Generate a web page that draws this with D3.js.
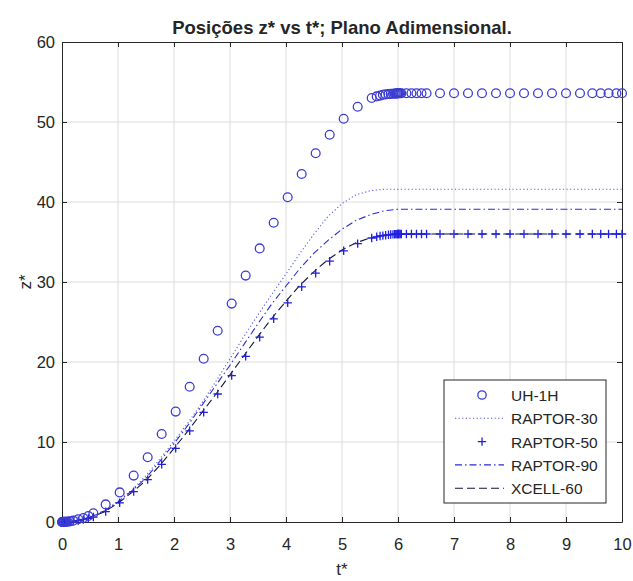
<!DOCTYPE html>
<html>
<head>
<meta charset="utf-8">
<script src="https://cdn.jsdelivr.net/npm/d3@7"></script>
<style>
  body { margin: 0; background: #fff; }
  svg text { font-family: "Liberation Sans", Arial, Helvetica, sans-serif; fill: #262626; }
</style>
</head>
<body>
<div id="chart"></div>
<script>
// sample times shared by the two marker series (UH-1H, RAPTOR-50)
const tMarks = [0, 0.005, 0.01, 0.02, 0.03, 0.04, 0.06, 0.08, 0.1, 0.14, 0.2, 0.29, 0.38, 0.47, 0.56,
  0.78, 1.03, 1.28, 1.53, 1.78, 2.03, 2.28, 2.53, 2.78, 3.03, 3.28, 3.53, 3.78, 4.03, 4.28, 4.53,
  4.78, 5.03, 5.28, 5.53, 5.62, 5.68, 5.73, 5.78, 5.83, 5.87, 5.91, 5.94, 5.96, 5.98, 5.99, 6.0,
  6.01, 6.02, 6.04, 6.06, 6.15, 6.24, 6.33, 6.42, 6.51, 6.75, 7.0, 7.25, 7.5, 7.75, 8.0, 8.25,
  8.5, 8.75, 9.0, 9.25, 9.47, 9.62, 9.76, 9.9, 10];

const uh1h = [0, 0, 0, 0, 0.01, 0.01, 0.02, 0.03, 0.05, 0.08, 0.17, 0.34, 0.5, 0.75, 1.1,
  2.2, 3.7, 5.8, 8.1, 11.0, 13.8, 16.9, 20.4, 23.9, 27.3, 30.8, 34.2, 37.4, 40.6, 43.5, 46.1,
  48.4, 50.4, 51.9, 53.0, 53.2, 53.3, 53.4, 53.45, 53.5, 53.52, 53.54, 53.55, 53.56, 53.57, 53.58, 53.6,
  53.6, 53.6, 53.6, 53.6, 53.6, 53.6, 53.6, 53.6, 53.6, 53.6, 53.6, 53.6, 53.6, 53.6, 53.6, 53.6,
  53.6, 53.6, 53.6, 53.6, 53.6, 53.6, 53.6, 53.6, 53.6];

const raptor50 = [0, 0, 0, 0, 0, 0, 0, 0.01, 0.02, 0.04, 0.08, 0.17, 0.3, 0.45, 0.62,
  1.3, 2.4, 3.8, 5.3, 7.2, 9.2, 11.4, 13.7, 16.0, 18.3, 20.7, 23.1, 25.4, 27.4, 29.4, 31.1,
  32.6, 33.9, 34.8, 35.5, 35.65, 35.75, 35.8, 35.85, 35.9, 35.93, 35.95, 35.97, 35.98, 35.99, 36, 36,
  36, 36, 36, 36, 36, 36, 36, 36, 36, 36, 36, 36, 36, 36, 36, 36,
  36, 36, 36, 36, 36, 36, 36, 36, 36];

// line series
const tLine = [0, 0.25, 0.5, 0.75, 1, 1.25, 1.5, 1.75, 2, 2.25, 2.5, 2.75, 3, 3.25, 3.5, 3.75,
  4, 4.25, 4.5, 4.75, 5, 5.25, 5.5, 5.75, 6, 10];
const raptor30 = [0, 0.2, 0.65, 1.4, 2.6, 4.0, 5.8, 7.9, 10.1, 12.4, 14.9, 17.6, 20.4, 23.2, 25.9, 28.5,
  31.0, 33.6, 36.0, 38.2, 39.8, 40.9, 41.4, 41.6, 41.6, 41.6];
const raptor90 = [0, 0.15, 0.6, 1.3, 2.5, 3.9, 5.5, 7.6, 9.8, 12.1, 14.6, 17.1, 19.6, 22.2, 24.8, 27.3,
  29.5, 31.7, 33.6, 35.2, 36.6, 37.7, 38.4, 38.9, 39.1, 39.1];
const xcell60 = [0, 0.15, 0.55, 1.25, 2.35, 3.7, 5.2, 7.1, 9.2, 11.4, 13.7, 16.0, 18.4, 20.8, 23.2, 25.5,
  27.6, 29.6, 31.3, 32.8, 34.0, 34.9, 35.5, 35.85, 36.0, 36.0];

const xTicks = d3.range(0, 11, 1);
const yTicks = d3.range(0, 61, 10);

const legendItems = [
  { name: "UH-1H", kind: "circle" },
  { name: "RAPTOR-30", kind: "dotted" },
  { name: "RAPTOR-50", kind: "plus" },
  { name: "RAPTOR-90", kind: "dashdot" },
  { name: "XCELL-60", kind: "dashed" }
];

const W = 633, H = 581;
const margin = { top: 42, right: 11, bottom: 59, left: 62 };
const width = W - margin.left - margin.right;
const height = H - margin.top - margin.bottom;

const svg = d3.select("#chart").append("svg")
  .attr("width", W).attr("height", H);

const g = svg.append("g").attr("transform", `translate(${margin.left},${margin.top})`);

const x = d3.scaleLinear().domain([0, 10]).range([0, width]);
const y = d3.scaleLinear().domain([0, 60]).range([height, 0]);

const blue = "#1f1fe0";
const circleBlue = "#3c3cd2";

// grid
g.append("g").selectAll("line").data(xTicks.slice(1, -1)).join("line")
  .attr("x1", d => x(d)).attr("x2", d => x(d)).attr("y1", 0).attr("y2", height)
  .attr("stroke", "#dcdcdc").attr("stroke-width", 1);
g.append("g").selectAll("line").data(yTicks.slice(1, -1)).join("line")
  .attr("y1", d => y(d)).attr("y2", d => y(d)).attr("x1", 0).attr("x2", width)
  .attr("stroke", "#dcdcdc").attr("stroke-width", 1);

// axes with inward ticks
const axisStyle = sel => {
  sel.select(".domain").attr("stroke", "#262626");
  sel.selectAll(".tick line").attr("stroke", "#262626");
  sel.selectAll(".tick text").style("font-size", "16.5px").attr("fill", "#404040");
};
g.append("g").attr("transform", `translate(0,${height})`)
  .call(d3.axisBottom(x).tickValues(xTicks).tickSizeInner(-5).tickSizeOuter(0).tickPadding(16))
  .call(axisStyle);
g.append("g")
  .call(d3.axisLeft(y).tickValues(yTicks).tickSizeInner(-5).tickSizeOuter(0).tickPadding(7))
  .call(axisStyle);
g.append("g")
  .call(d3.axisTop(x).tickValues(xTicks).tickSizeInner(-5).tickSizeOuter(0).tickFormat(""))
  .call(axisStyle);
g.append("g").attr("transform", `translate(${width},0)`)
  .call(d3.axisRight(y).tickValues(yTicks).tickSizeInner(-5).tickSizeOuter(0).tickFormat(""))
  .call(axisStyle);

// lines
const line = d3.line().x(d => x(d[0])).y(d => y(d[1]));
const lineSeries = [
  { vals: raptor30, color: "#5a5ae0", dash: "1.2,2.4" },
  { vals: raptor90, color: "#2a2ad8", dash: "7,3,1.5,3" },
  { vals: xcell60, color: "#15153a", dash: "8,4" }
];
lineSeries.forEach(s => {
  g.append("path")
    .datum(tLine.map((t, i) => [t, s.vals[i]]))
    .attr("d", line)
    .attr("fill", "none")
    .attr("stroke", s.color)
    .attr("stroke-width", 1.1)
    .attr("stroke-dasharray", s.dash);
});

// RAPTOR-50 plus markers
const plusPath = "M-4.2,0H4.2M0,-4.2V4.2";
g.append("g").selectAll("path").data(tMarks.map((t, i) => [t, raptor50[i]])).join("path")
  .attr("transform", d => `translate(${x(d[0])},${y(d[1])})`)
  .attr("d", plusPath)
  .attr("stroke", blue).attr("stroke-width", 1.3).attr("fill", "none");

// UH-1H circles
g.append("g").selectAll("circle").data(tMarks.map((t, i) => [t, uh1h[i]])).join("circle")
  .attr("cx", d => x(d[0])).attr("cy", d => y(d[1])).attr("r", 4.4)
  .attr("fill", "none").attr("stroke", circleBlue).attr("stroke-width", 1.3);

// title and labels
svg.append("text").attr("x", margin.left + width / 2).attr("y", 34)
  .attr("text-anchor", "middle").style("font-size", "18.5px").style("font-weight", "bold")
  .attr("fill", "#1a1a1a")
  .text("Posições z* vs t*; Plano Adimensional.");
svg.append("text").attr("x", margin.left + width / 2).attr("y", 575)
  .attr("text-anchor", "middle").style("font-size", "17px").attr("fill", "#404040")
  .text("t*");
svg.append("text")
  .attr("transform", `translate(31,${margin.top + height / 2}) rotate(-90)`)
  .attr("text-anchor", "middle").style("font-size", "17px").attr("fill", "#404040")
  .text("z*");

// legend
const lg = svg.append("g").attr("transform", "translate(444,380)");
lg.append("rect").attr("width", 162).attr("height", 123)
  .attr("fill", "#fff").attr("stroke", "#262626").attr("stroke-width", 1);
legendItems.forEach((it, i) => {
  const ry = 15 + i * 23.3;
  const row = lg.append("g").attr("transform", `translate(0,${ry})`);
  if (it.kind === "circle") {
    row.append("circle").attr("cx", 38).attr("cy", 0).attr("r", 4.2)
      .attr("fill", "none").attr("stroke", circleBlue).attr("stroke-width", 1.3);
  } else if (it.kind === "plus") {
    row.append("path").attr("transform", "translate(38,0)").attr("d", plusPath)
      .attr("stroke", blue).attr("stroke-width", 1.3).attr("fill", "none");
  } else {
    const s = it.kind === "dotted" ? lineSeries[0] : it.kind === "dashdot" ? lineSeries[1] : lineSeries[2];
    row.append("line").attr("x1", 11).attr("x2", 60).attr("y1", 0).attr("y2", 0)
      .attr("stroke", s.color).attr("stroke-width", 1.1).attr("stroke-dasharray", s.dash);
  }
  row.append("text").attr("x", 67).attr("y", 6).style("font-size", "15.5px").text(it.name);
});
</script>
</body>
</html>
